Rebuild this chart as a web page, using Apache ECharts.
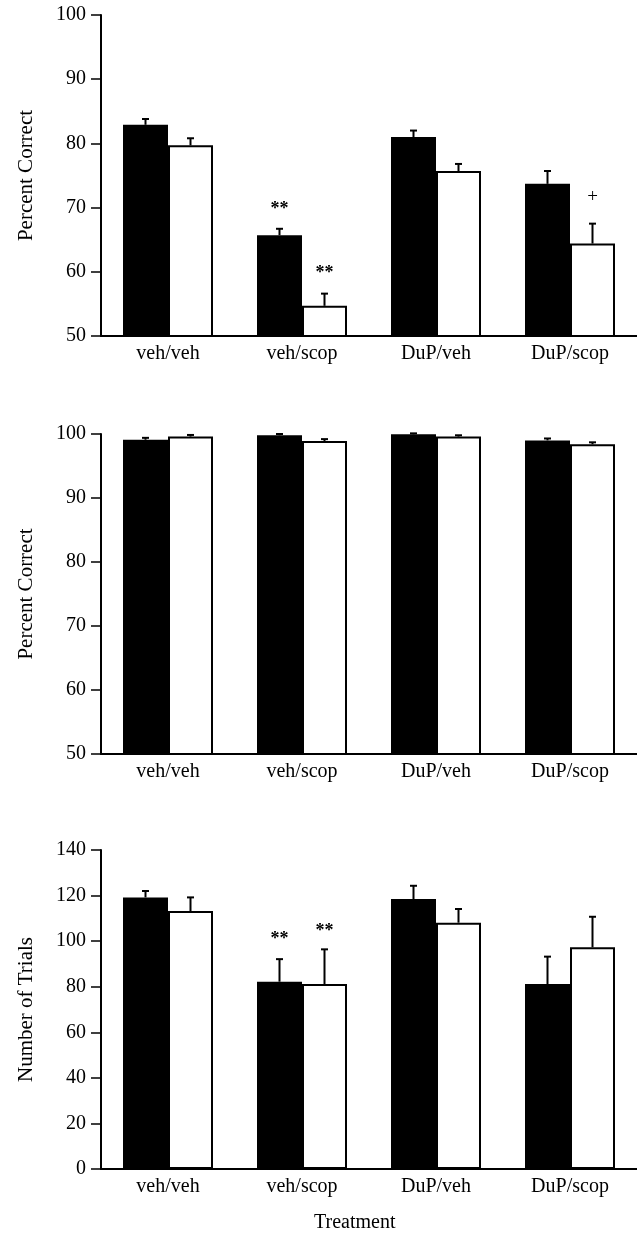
<!DOCTYPE html>
<html>
<head>
<meta charset="utf-8">
<script src="https://cdn.jsdelivr.net/npm/echarts@6/dist/echarts.min.js"></script>
<style>
html,body{margin:0;padding:0;background:#fff;}
#chart{width:637px;height:1235px;}
</style>
</head>
<body>
<div id="chart"></div>
<script>
// ---- data ----
const categories = ['veh/veh', 'veh/scop', 'DuP/veh', 'DuP/scop'];

// Panel 1 (Percent Correct)
const p1Black = [82.9, 65.7, 81.0, 73.7];
const p1BlackErr = [0.9, 1.0, 1.0, 2.0];
const p1White = [79.7, 54.7, 75.7, 64.4];
const p1WhiteErr = [1.1, 1.9, 1.1, 3.1];
const p1Ticks = [50, 60, 70, 80, 90, 100];

// Panel 2 (Percent Correct)
const p2Black = [99.1, 99.8, 99.95, 99.0];
const p2BlackErr = [0.3, 0.2, 0.15, 0.3];
const p2White = [99.6, 98.9, 99.6, 98.4];
const p2WhiteErr = [0.25, 0.3, 0.2, 0.3];
const p2Ticks = [50, 60, 70, 80, 90, 100];

// Panel 3 (Number of Trials)
const p3Black = [119.2, 82.2, 118.5, 81.2];
const p3BlackErr = [2.8, 9.9, 5.8, 12.0];
const p3White = [113.2, 81.2, 108.1, 97.3];
const p3WhiteErr = [6.0, 15.2, 6.0, 13.4];
const p3Ticks = [0, 20, 40, 60, 80, 100, 120, 140];

// significance marks: [categoryIndex, series ('black'|'white'), value, text]
const p1Marks = [[1, 'black', 69.8, '**'], [1, 'white', 59.8, '**'], [3, 'white', 71.7, '+']];
const p3Marks = [[1, 'black', 101.0, '**'], [1, 'white', 104.5, '**']];

const yNames = ['Percent Correct', 'Percent Correct', 'Number of Trials'];
const xTitle = 'Treatment';

// ---- chart ----
const FONT = '"Liberation Serif", "Times New Roman", serif';
const BAR_W = 45;
const grids = [
  {left: 101, top: 15, width: 539, height: 321},
  {left: 101, top: 434, width: 539, height: 320},
  {left: 101, top: 850, width: 539, height: 319}
];
const panels = [
  {black: p1Black, blackErr: p1BlackErr, white: p1White, whiteErr: p1WhiteErr, ticks: p1Ticks, marks: p1Marks},
  {black: p2Black, blackErr: p2BlackErr, white: p2White, whiteErr: p2WhiteErr, ticks: p2Ticks, marks: []},
  {black: p3Black, blackErr: p3BlackErr, white: p3White, whiteErr: p3WhiteErr, ticks: p3Ticks, marks: p3Marks}
];

const xAxes = [], yAxes = [], series = [];
panels.forEach((p, i) => {
  xAxes.push({
    type: 'category', gridIndex: i, data: categories,
    axisLine: {lineStyle: {color: '#000', width: 2}},
    axisTick: {show: false},
    axisLabel: {color: '#000', fontFamily: FONT, fontSize: 20, margin: 8}
  });
  const step = p.ticks[1] - p.ticks[0];
  yAxes.push({
    type: 'value', gridIndex: i,
    min: p.ticks[0], max: p.ticks[p.ticks.length - 1], interval: step,
    name: yNames[i], nameLocation: 'middle', nameGap: 64,
    nameTextStyle: {color: '#000', fontFamily: FONT, fontSize: 21},
    axisLine: {show: true, lineStyle: {color: '#000', width: 2}},
    axisTick: {show: true, length: 10, lineStyle: {color: '#000', width: 1.5}},
    axisLabel: {color: '#000', fontFamily: FONT, fontSize: 20, margin: 15},
    splitLine: {show: false}
  });
  series.push({
    type: 'bar', xAxisIndex: i, yAxisIndex: i, data: p.black,
    barWidth: BAR_W, barGap: '0%',
    itemStyle: {color: '#000'}, silent: true
  });
  series.push({
    type: 'bar', xAxisIndex: i, yAxisIndex: i, data: p.white,
    barWidth: BAR_W, barGap: '0%',
    itemStyle: {color: '#fff', borderColor: '#000', borderWidth: 2}, silent: true
  });
  [['black', p.black, p.blackErr, -1], ['white', p.white, p.whiteErr, 1]].forEach(([nm, vals, errs, sgn]) => {
    series.push({
      type: 'custom', xAxisIndex: i, yAxisIndex: i, z: 5, silent: true,
      data: vals.map((v, k) => [k, v, errs[k]]),
      renderItem: function (params, api) {
        const k = api.value(0), v = api.value(1), e = api.value(2);
        const base = api.coord([k, v]);
        const top = api.coord([k, v + e]);
        const x = base[0] + sgn * BAR_W / 2;
        return {
          type: 'group',
          children: [
            {type: 'line', shape: {x1: x, y1: base[1], x2: x, y2: top[1]}, style: {stroke: '#000', lineWidth: 2}},
            {type: 'line', shape: {x1: x - 3.5, y1: top[1], x2: x + 3.5, y2: top[1]}, style: {stroke: '#000', lineWidth: 2}}
          ]
        };
      }
    });
  });
  if (p.marks.length) {
    series.push({
      type: 'custom', xAxisIndex: i, yAxisIndex: i, z: 6, silent: true,
      data: p.marks.map(m => [m[0], m[2], m[1] === 'black' ? -1 : 1, m[3]]),
      renderItem: function (params, api) {
        const d = p.marks[params.dataIndex];
        const c = api.coord([api.value(0), api.value(1)]);
        const x = c[0] + api.value(2) * BAR_W / 2;
        const isStar = d[3] === '**';
        return {
          type: 'text',
          style: {
            text: d[3], x: x, y: c[1], align: 'center', verticalAlign: 'middle',
            fill: '#000', fontFamily: FONT, fontSize: isStar ? 18 : 19, fontWeight: isStar ? 'bold' : 'normal'
          }
        };
      }
    });
  }
});

const chart = echarts.init(document.getElementById('chart'), null, {renderer: 'canvas'});
chart.setOption({
  animation: false,
  backgroundColor: '#fff',
  grid: grids,
  xAxis: xAxes,
  yAxis: yAxes,
  series: series,
  graphic: [{
    type: 'text', left: 354 - 40, top: 1213,
    style: {text: xTitle, fill: '#000', fontFamily: FONT, fontSize: 20}
  }]
});
</script>
</body>
</html>
